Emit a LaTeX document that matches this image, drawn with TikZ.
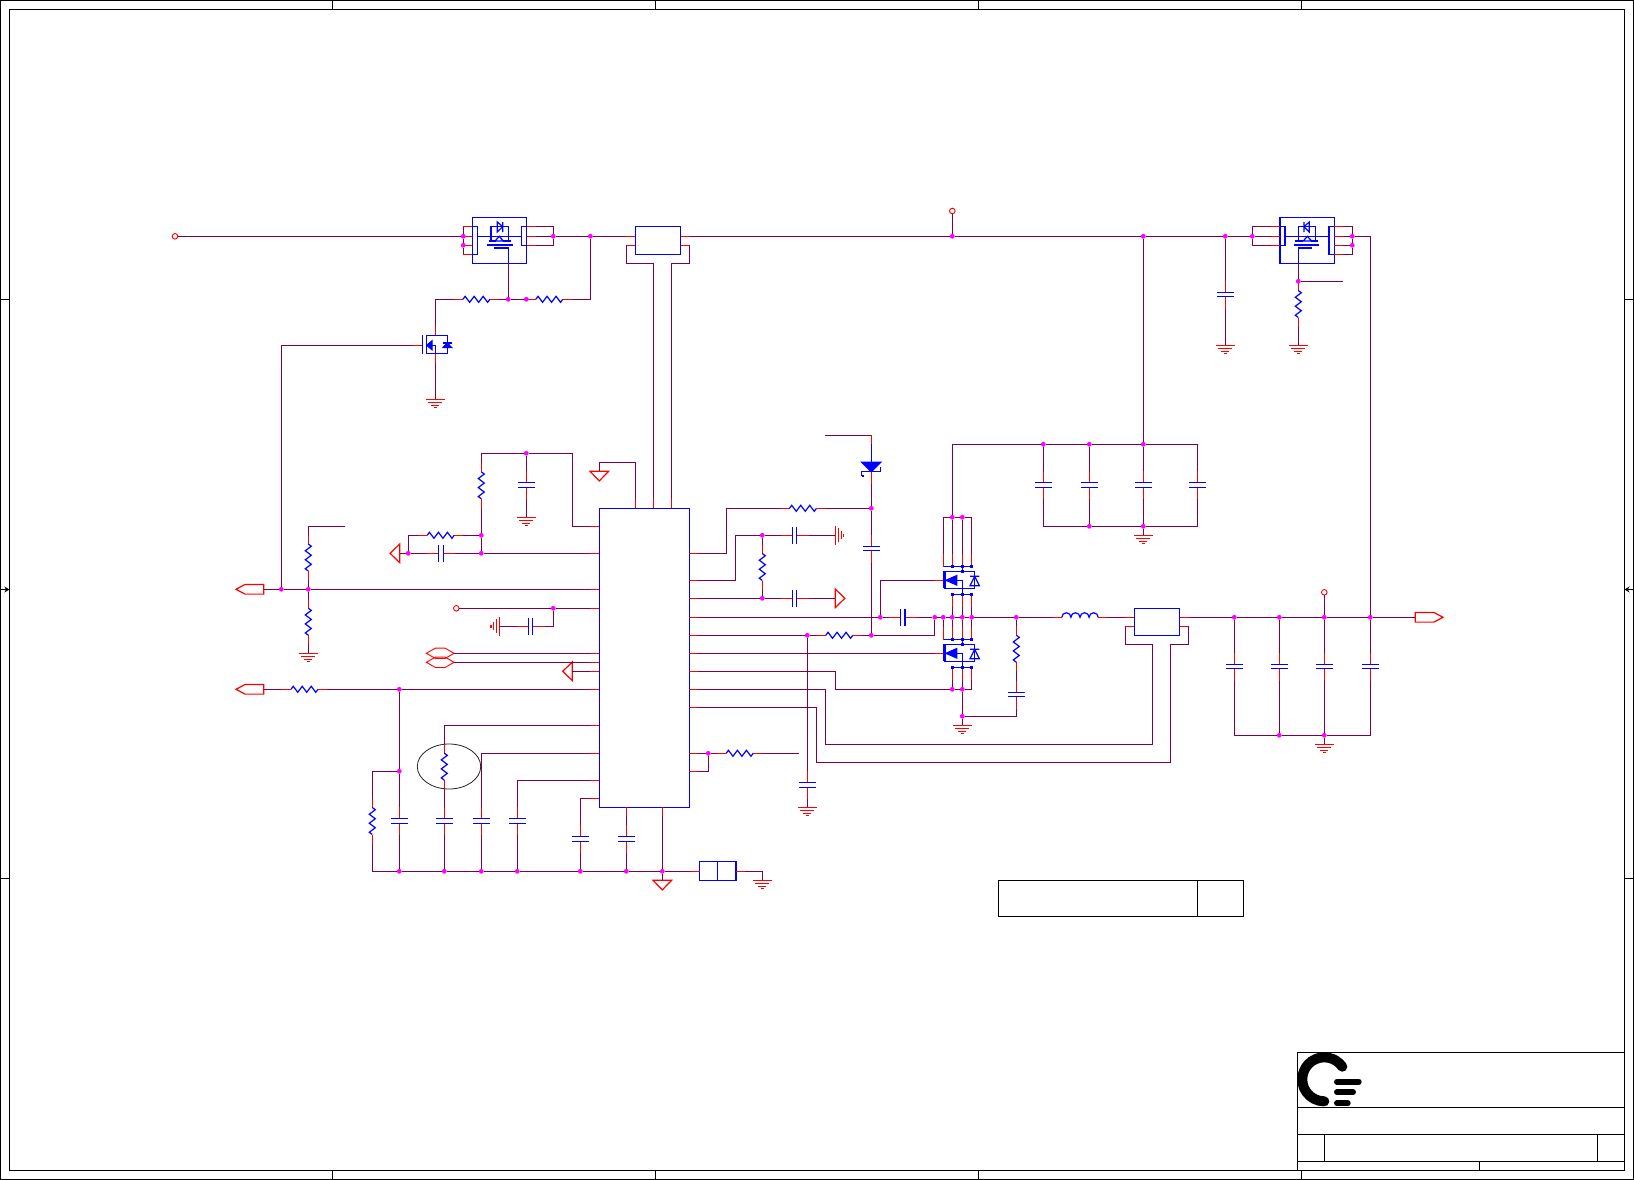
\documentclass[tikz,border=0pt]{standalone}
\usetikzlibrary{arrows.meta,shapes.geometric}
\definecolor{wirecol}{RGB}{128,0,72}
\definecolor{partcol}{RGB}{0,0,255}
\definecolor{pincol}{RGB}{255,0,0}
\definecolor{dotcol}{RGB}{255,0,255}
\tikzset{
  wire/.style={draw=wirecol, line width=1.2pt},
  pin/.style={draw=pincol, line width=1.2pt},
  part/.style={draw=partcol, line width=1.2pt},
  frame/.style={draw=black, line width=1.3pt},
  dot/.style={circle, fill=dotcol, inner sep=0pt, outer sep=0pt, minimum size=4.8pt},
  tp/.style={circle, draw=pincol, line width=0.9pt, inner sep=0pt, outer sep=0pt, minimum size=5.6pt},
  box/.style={part, rectangle, inner sep=0pt, outer sep=0pt},
  vert/.style={rotate=-90},
  pics/res/.style={code={
      \coordinate (-a) at (-22.5,0);
      \coordinate (-b) at (22.5,0);
      \draw[pin] (-a) -- (-13.5,0) (13.5,0) -- (-b);
      \draw[part] (-13.5,0) -- (-11.25,-3) -- (-6.75,3) -- (-2.25,-3) -- (2.25,3) -- (6.75,-3) -- (11.25,3) -- (13.5,0);
  }},
  pics/capa/.style={code={
      \coordinate (-a) at (-14,0);
      \coordinate (-b) at (14,0);
      \draw[pin] (-a) -- (-2.3,0) (2.3,0) -- (-b);
      \draw[part] (-2.3,-8.7) -- (-2.3,8.7) (2.3,-8.7) -- (2.3,8.7);
  }},
  pics/ind/.style={code={
      \coordinate (-a) at (-27.3,0);
      \coordinate (-b) at (27.3,0);
      \draw[pin] (-a) -- (-18.2,0) (18.2,0) -- (-b);
      \draw[part] (-18.2,0) arc[start angle=180, end angle=360, radius=4.55]
        arc[start angle=180, end angle=360, radius=4.55]
        arc[start angle=180, end angle=360, radius=4.55]
        arc[start angle=180, end angle=360, radius=4.55];
  }},
  pics/gnd/.style={code={
      \coordinate (-a) at (0,0);
      \draw[pin] (-9.5,0) -- (9.5,0) (-7,3) -- (7,3) (-4,6) -- (4,6) (-1.2,8.3) -- (1.2,8.3);
  }},
  pics/tri/.style={code={
      \coordinate (-a) at (0,0);
      \draw[pin] (0,-9.3) -- (0,9.3) -- (9.6,0) -- cycle;
  }},
  pics/port/.style={code={
      \coordinate (-a) at (0,0);
      \draw[pin] (0,-4.8) -- (-18.7,-4.8) -- (-27.7,0) -- (-18.7,4.8) -- (0,4.8) -- cycle;
  }},
  pics/hexa/.style={code={
      \coordinate (-a) at (0,0);
      \draw[pin, line width=0.9pt] (0,0) -- (-9,-5.2) -- (-18.5,-5.2) -- (-27.7,0) -- (-18.5,5.2) -- (-9,5.2) -- cycle;
  }},
  pics/zen/.style={code={
      \coordinate (-a) at (0,-27);
      \coordinate (-b) at (0,21.7);
      \draw[pin] (-a) -- (0,-18) (0,9) -- (-b);
      \draw[part] (0,-18) -- (0,9);
      \draw[part, fill=partcol] (-9.5,0) -- (9.5,0) -- (0,9.4) -- cycle;
      \draw[part] (-9.5,13.7) -- (-9.5,9.4) -- (9.5,9.4) -- (9.5,5);
      \draw[part] (-9.5,13.7) -- (-7,13.7);
  }},
  pics/smallfet/.style={code={
      \coordinate (-d) at (0,-19);
      \coordinate (-s) at (0,17.4);
      \coordinate (-g) at (-22.1,0);
      \draw[pin] (-d) -- (0,-10) (0,8.4) -- (-s) (-g) -- (-13.1,0);
      \draw[part] (-13.1,-10) -- (-13.1,8.4);
      \draw[part] (-9.1,-10) rectangle (11.9,8.4);
      \draw[part, fill=partcol] (-8.7,0) -- (-3.3,-4.5) -- (-3.3,4.5) -- cycle;
      \draw[part] (-3.3,0) -- (0.3,0) -- (0.3,8.4);
      \draw[part, fill=partcol] (7.6,2.3) -- (16.2,2.3) -- (11.9,-2.3) -- cycle;
      \draw[part] (7.6,-2.3) -- (16.2,-2.3);
  }},
  pics/powfet/.style={code={
      \coordinate (-g) at (-28,0);
      \draw[pin] (-g) -- (-19,0);
      \draw[part] (-19,-9) -- (-19,8);
      \draw[part] (-17.3,-9) -- (12.4,-9) -- (12.4,8) -- (-17.3,8) -- cycle;
      \draw[part, fill=partcol] (-16.3,0) -- (-5.6,-4.7) -- (-5.6,4.7) -- cycle;
      \draw[part] (-5.6,0) -- (0,0) -- (0,14);
      \draw[part] (0,-9) -- (0,-13.6);
      \draw[part] (7.7,5.4) -- (17,5.4) -- (12.4,-4) -- cycle (7.7,-4) -- (17,-4);
      \draw[part] (-19,-13.6) -- (9.4,-13.6) (-10,14) -- (9.4,14);
      \foreach \i/\x in {1/-19,2/-10,3/0,4/9.4} {
        \coordinate (-d\i) at (\x,-26.6);
        \draw[pin] (-d\i) -- (\x,-13.6);
      }
      \foreach \i/\x in {2/-10,3/0,4/9.4} {
        \coordinate (-s\i) at (\x,27);
        \draw[pin] (\x,14) -- (-s\i);
        \fill[partcol] (\x-1.6,12.4) rectangle ++(3.2,3.2);
      }
      \foreach \x/\y in {-10/-13.6,0/-13.6,9.4/-13.6,0/-9} {
        \fill[partcol] (\x-1.6,\y-1.6) rectangle ++(3.2,3.2);
      }
  }},
  pics/hsw/.style={code={
      \coordinate (-g) at (8.3,18.3);
      \draw[part] (-27.7,-27.7) rectangle (26.7,18.3);
      \draw[part] (-27.7,-18.3) rectangle (-22.3,9.3);
      \draw[part] (21.7,-18.3) rectangle (26.7,0.3);
      \draw[part] (-22.3,-8.7) -- (21.7,-8.7);
      \draw[part] (-9,-4) -- (-9,-18.3) -- (8.3,-18.3) -- (8.3,-4);
      \draw[part] (-2.7,-23) -- (-2.7,-13) -- (2.7,-18.3) -- cycle (2.7,-23) -- (2.7,-13);
      \draw[part] (-11,-4) -- (-4,-4) (3.3,-4) -- (11.3,-4);
      \draw[part] (-5,-4) -- (-0.7,-8.7) -- (3.3,-4) -- cycle;
      \draw[part, line width=2pt] (-12.7,0) -- (12.7,0);
      \draw[part] (-5.7,3) -- (8.3,3) -- (-g);
      \foreach \i/\y in {1/-18.3,2/-8.7,3/0.3,4/9.3} {
        \coordinate (-l\i) at (-36.7,\y);
        \draw[pin] (-l\i) -- (-27.7,\y);
      }
      \foreach \i/\y in {1/-18.3,2/-8.7,3/0.3} {
        \coordinate (-r\i) at (35.7,\y);
        \draw[pin] (26.7,\y) -- (-r\i);
      }
  }},
}
\begin{document}
\begin{tikzpicture}[x=1pt, y=-1pt]
      \useasboundingbox (0,0) rectangle (1634,1180);

      \draw[frame] (0.8,0.8) rectangle (1633.2,1179.2);
      \draw[frame] (9.4,9.4) rectangle (1624.5,1170.3);
      \foreach \x in {332.4,655.4,978.4,1301.5} {
        \draw[frame] (\x,0.8) -- (\x,9.4);
        \draw[frame] (\x,1170.3) -- (\x,1179.2);
      }
      \foreach \y in {299.3,878.4} {
        \draw[frame] (0.8,\y) -- (9.4,\y);
        \draw[frame] (1624.5,\y) -- (1633.2,\y);
      }
      \draw[frame, -{Stealth[length=5pt,width=6pt]}] (0.8,589.5) -- (9.4,589.5);
      \draw[frame, -{Stealth[length=5pt,width=6pt]}] (1633.2,589.5) -- (1624.5,589.5);

      \draw[frame] (1624.5,1052.3) -- (1297.3,1052.3) -- (1297.3,1170.3);
      \draw[frame] (1297.3,1107.3) -- (1624.5,1107.3);
      \draw[frame] (1297.3,1134.3) -- (1624.5,1134.3);
      \draw[frame] (1297.3,1161.3) -- (1624.5,1161.3);
      \draw[frame] (1324.3,1134.3) -- (1324.3,1161.3);
      \draw[frame] (1597.7,1134.3) -- (1597.7,1161.3);
      \draw[frame] (1479.7,1161.3) -- (1479.7,1170.3);
      \draw[black, line width=10pt, line cap=round] (1342.3,1066.7) arc[start angle=-35, end angle=-270, radius=22];
      \draw[black, line width=6pt, line cap=round] (1337,1081.7) -- (1358.7,1081.7);
      \draw[black, line width=6pt, line cap=round] (1337,1092.3) -- (1353,1092.3);
      \draw[black, line width=6pt, line cap=round] (1337,1103.3) -- (1347.7,1103.3);

      \node[frame, rectangle, inner sep=0pt, minimum width=199.2pt, minimum height=36pt] (T_name) at (1097.9,898.3) {};
      \node[frame, rectangle, inner sep=0pt, minimum width=46.2pt, minimum height=36pt] (T_rev) at (1220.7,898.3) {};

      \node[box, minimum width=90pt, minimum height=299pt] (U_ctl) at (644.3,657.8) {};
      \node[box, minimum width=45.3pt, minimum height=28pt] (U_in) at (658,240.3) {};
      \node[box, minimum width=45.4pt, minimum height=27pt] (U_out) at (1157,621.8) {};
      \node[box, minimum width=18.2pt, minimum height=19pt] (J_a) at (708.6,870.8) {};
      \node[box, minimum width=18.2pt, minimum height=19pt] (J_b) at (726.8,870.8) {};
      \node[draw=black!85, line width=0.8pt, ellipse, inner sep=0pt, minimum width=63.4pt, minimum height=45pt] (M_ntc) at (449,766.5) {};

      \node[tp] (TP_in) at (175,236.3) {};
      \node[tp] (TP_sw) at (952.3,211) {};
      \node[tp] (TP_bat) at (456.3,608.3) {};
      \node[tp] (TP_out) at (1324.3,592.3) {};

      \pic (U1) at (500,245) {hsw};
      \pic[xscale=-1] (U3) at (1306.6,245) {hsw};
      \pic (Q1) at (435.4,345.3) {smallfet};
      \pic (QH) at (962.3,580.3) {powfet};
      \pic (QL) at (962.3,653.3) {powfet};
      \pic (Z1) at (871.3,462.3) {zen};
      \pic (L1) at (1080,617.3) {ind};

      \foreach \n/\x/\y in {R_q1/476.4/299.3, R_q2/549.3/299.3, R_i/440.7/535.3, R_a/803/508.3, R_e/839.3/635.3,
        R_b/304.5/689.3, R_j/739.7/753.3} {
        \pic (\n) at (\x,\y) {res};
      }
      \foreach \n/\x/\y in {R_n/1298.3/304, R_h/481.3/485.3, R_s/308.3/557.5, R_t/308.3/621.7, R_f/762.3/567,
        R_l/372.3/821, R_m/444.3/766.6, R_d/1016.3/648.7} {
        \pic[vert] (\n) at (\x,\y) {res};
      }
      \foreach \n/\x/\y in {C_i/440.8/553.3, C_c/530.5/626.3, C_f/794.5/535.3, C_g/794.5/598.3, C_h/902.7/617.3} {
        \pic (\n) at (\x,\y) {capa};
      }
      \foreach \n/\x/\y in {C_n/1225.3/294.5, C_t/526.3/484.8, C_l/399.3/820.8, C_m/444.3/820.8, C_o/481.3/820.8,
        C_p/517.3/820.8, C_r/580.3/838.8, C_s/626.3/838.8, C_boot/871.3/548.5, C_k/807.3/784.8, C_d/1016.3/694.5,
        C_b1/1043.3/484.8, C_b2/1089.3/484.8, C_b3/1143.3/484.8, C_b4/1197.3/484.8,
        C_o1/1234.3/666.5, C_o2/1279.3/666.5, C_o3/1324.3/666.5, C_o4/1370.3/666.5} {
        \pic[vert] (\n) at (\x,\y) {capa};
      }
      \foreach \n/\x/\y in {G_n/1225.3/345.3, G_m/1298.3/345.3, G_q1/435.4/399.3, G_t/526.3/517.3, G_s/308.3/653.3,
        G_j/762.3/880.3, G_k/807.3/807.3, G_q/962.3/725.3, G_b/1143.3/535.3, G_o/1324.3/744.3} {
        \pic (\n) at (\x,\y) {gnd};
      }
      \pic[rotate=-90] (G_c) at (499.3,626.3) {gnd};
      \pic[rotate=90] (G_f) at (835.3,535.3) {gnd};
      \pic[rotate=180] (T_i) at (399.7,553.3) {tri};
      \pic[rotate=180] (T_l) at (572.3,671.3) {tri};
      \pic (T_g) at (835.3,598.3) {tri};
      \pic[vert] (T_t) at (599.3,471.3) {tri};
      \pic[vert] (T_b) at (662.3,880.3) {tri};
      \pic (P_a) at (263.7,589.3) {port};
      \pic (P_b) at (263.7,689.3) {port};
      \pic[xscale=-1] (P_o) at (1415.3,617.3) {port};
      \pic (H_a) at (454,653.3) {hexa};
      \pic (H_b) at (454,662.3) {hexa};

      \foreach \n/\x/\y/\dx/\dy in {LA/590.3/526.3/9/0, LB/590.3/553.3/9/0, LC/590.3/589.3/9/0, LD/590.3/608.3/9/0,
        LE/590.3/653.3/9/0, LF/590.3/662.3/9/0, LG/590.3/671.3/9/0, LH/590.3/689.3/9/0, LI/590.3/725.3/9/0,
        LJ/590.3/753.3/9/0, LK/590.3/780.3/9/0, LL/590.3/798.3/9/0,
        RA/698.3/553.3/-9/0, RB/698.3/580.3/-9/0, RC/698.3/598.3/-9/0, RD/698.3/617.3/-9/0, RE/698.3/635.3/-9/0,
        RF/698.3/653.3/-9/0, RG/698.3/671.3/-9/0, RH/698.3/689.3/-9/0, RI/698.3/707.3/-9/0, RJ/698.3/753.3/-9/0,
        RK/698.3/771.3/-9/0,
        TA/635.3/499.3/0/9, TB/653.3/499.3/0/9, TC/671.3/499.3/0/9, BA/626.3/816.3/0/-9, BB/662.3/816.3/0/-9,
        FA/626.4/236.3/9/0, FB/626.4/245.3/9/0, FC/689.7/236.3/-9/0, FD/689.7/245.3/-9/0,
        UA/1125.3/617.3/9/0, UB/1125.3/626.3/9/0, UC/1188.7/617.3/-9/0, UD/1188.7/626.3/-9/0,
        JA/690.5/871.3/9/0, JB/744.8/871.3/-9/0} {
        \coordinate (\n) at (\x,\y);
        \draw[pin] (\n) -- ++(\dx,\dy);
      }

      \foreach \n/\x/\y in {J1/463.3/236.3, J2/463.3/245.3, J3/553.3/236.3, J4/590.4/236.3, J5/508.3/299.3,
        J6/526.3/299.3, J7/952.3/236.3, J8/1143.3/236.3, J9/1225.3/236.3, J10/1252.3/236.3, J11/1352.3/236.3,
        J12/1352.3/245.3, J13/1298.3/281.3, J14/526.3/453.3, J15/481.3/535.3, J16/481.3/553.3, J17/408.3/553.3,
        J18/281.3/589.3, J19/308.3/589.3, J20/553.3/608.3, J21/399.3/689.3, J22/399.3/771.3,
        J23/399.3/871.3, J24/444.3/871.3, J25/481.3/871.3, J26/517.3/871.3, J27/580.3/871.3, J28/626.3/871.3,
        J29/662.3/871.3, J30/871.3/508.3, J31/871.3/635.3, J32/762.3/535.3, J33/762.3/598.3, J34/880.3/617.3,
        J35/934.7/617.3, J36/943.3/617.3, J37/952.3/617.3, J38/962.3/617.3, J39/971.7/617.3, J40/1016.3/617.3,
        J41/807.3/635.3, J42/952.3/689.3, J43/962.3/689.3, J44/962.3/716.3, J45/708.3/753.3, J46/952.3/517.3,
        J47/962.3/517.3, J48/1043.3/444.3, J49/1089.3/444.3, J50/1143.3/444.3, J51/1089.3/526.3, J52/1143.3/526.3,
        J53/1234.3/617.3, J54/1279.3/617.3, J55/1324.3/617.3, J56/1370.3/617.3, J57/1279.3/735.3, J58/1324.3/735.3} {
        \node[dot] (\n) at (\x,\y) {};
      }

      \coordinate (W_boot) at (825.3,435.3);
      \coordinate (W_sense) at (345,526.3);
      \coordinate (W_en) at (799,753.3);
      \coordinate (W_gate) at (1343.3,281.3);

      \draw[wire] (TP_in) -- (J1);
      \draw[wire] (U1-l1) -- (J1) -- (J2) -- (U1-l4);
      \draw[wire] (U1-l3) -- (J2);
      \draw[wire] (U1-r1) -| (J3) |- (U1-r3);
      \draw[wire] (U1-r2) -- (J3) -- (J4) -- (FA);
      \draw[wire] (FC) -- (J7) -- (J8) -- (J9) -- (J10);
      \draw[wire] (J7) -- (TP_sw);
      \draw[wire] (U3-r1) -| (J10) |- (U3-r3);
      \draw[wire] (U3-r2) -- (J10);
      \draw[wire] (U3-l1) -| (J11) -- (J12) |- (U3-l4);
      \draw[wire] (U3-l2) -- (J11);
      \draw[wire] (U3-l3) -- (J12);
      \draw[wire] (J11) -| (J56);
      \draw[wire] (J9) -- (C_n-a);
      \draw[wire] (C_n-b) -- (G_n-a);
      \draw[wire] (U3-g) -- (J13) -- (W_gate);
      \draw[wire] (R_n-b) -- (G_m-a);
      \draw[wire] (U1-g) -- (J5);
      \draw[wire] (R_q1-b) -- (J5) -- (J6);
      \draw[wire] (R_q2-b) -| (J4);
      \draw[wire] (R_q1-a) -| (Q1-d);
      \draw[wire] (Q1-s) -- (G_q1-a);
      \draw[wire] (Q1-g) -| (J18);
      \draw[wire] (P_a-a) -- (J18) -- (J19) -- (LC);
      \draw[wire] (J19) -- (R_s-b);
      \draw[wire] (R_s-a) |- (W_sense);
      \draw[wire] (J19) -- (R_t-a);
      \draw[wire] (R_t-b) -- (G_s-a);
      \draw[wire] (TP_bat) -- (J20) -- (LD);
      \draw[wire] (J20) |- (C_c-b);
      \draw[wire] (C_c-a) -- (G_c-a);
      \draw[wire] (H_a-a) -- (LE);
      \draw[wire] (H_b-a) -- (LF);
      \draw[wire] (T_l-a) -- (LG);
      \draw[wire] (P_b-a) -- (R_b-a);
      \draw[wire] (R_b-b) -- (J21) -- (LH);
      \draw[wire] (J21) -- (J22) -- (C_l-a);
      \draw[wire] (C_l-b) -- (J23);
      \draw[wire] (J22) -| (R_l-a);
      \draw[wire] (R_l-b) |- (J23);
      \draw[wire] (J23) -- (J24) -- (J25) -- (J26) -- (J27) -- (J28) -- (J29) -- (JA);
      \draw[wire] (JB) -| (G_j-a);
      \draw[wire] (LI) -| (R_m-a);
      \draw[wire] (R_m-b) -- (C_m-a);
      \draw[wire] (C_m-b) -- (J24);
      \draw[wire] (LJ) -| (C_o-a);
      \draw[wire] (C_o-b) -- (J25);
      \draw[wire] (LK) -| (C_p-a);
      \draw[wire] (C_p-b) -- (J26);
      \draw[wire] (LL) -| (C_r-a);
      \draw[wire] (C_r-b) -- (J27);
      \draw[wire] (BA) -- (C_s-a);
      \draw[wire] (C_s-b) -- (J28);
      \draw[wire] (BB) -- (J29) -- (T_b-a);
      \draw[wire] (LA) -- ++(-17.8,0) |- (J14) -| (R_h-a);
      \draw[wire] (R_h-b) -- (J15) -- (J16) -- (LB);
      \draw[wire] (J14) -- (C_t-a);
      \draw[wire] (C_t-b) -- (G_t-a);
      \draw[wire] (J15) -- (R_i-b);
      \draw[wire] (R_i-a) -| (J17);
      \draw[wire] (T_i-a) -- (J17) -- (C_i-a);
      \draw[wire] (C_i-b) -- (J16);
      \draw[wire] (TA) -- ++(0,-37) -| (T_t-a);
      \draw[wire] (TB) -- ++(0,-236) -| (FB);
      \draw[wire] (TC) -- ++(0,-236) -| (FD);
      \draw[wire] (RA) -- ++(28,0) |- (R_a-a);
      \draw[wire] (R_a-b) -- (J30);
      \draw[wire] (W_boot) -| (Z1-a);
      \draw[wire] (Z1-b) -- (J30) -- (C_boot-a);
      \draw[wire] (C_boot-b) -- (J31);
      \draw[wire] (RB) -- ++(37,0) |- (J32) -- (C_f-a);
      \draw[wire] (C_f-b) -- (G_f-a);
      \draw[wire] (J32) -- (R_f-a);
      \draw[wire] (R_f-b) -- (J33);
      \draw[wire] (RC) -- (J33) -- (C_g-a);
      \draw[wire] (C_g-b) -- (T_g-a);
      \draw[wire] (RD) -- (J34) -- (C_h-a);
      \draw[wire] (C_h-b) -- (J35) -- (J36) -- (J37) -- (J38) -- (J39) -- (J40) -- (L1-a);
      \draw[wire] (L1-b) -- (UA);
      \draw[wire] (J34) |- (QH-g);
      \draw[wire] (RE) -- (J41) -- (R_e-a);
      \draw[wire] (R_e-b) -- (J31) -| (J35);
      \draw[wire] (RF) -- (QL-g);
      \draw[wire] (RG) -- ++(137,0) |- (J42) -- (J43);
      \draw[wire] (RH) -- ++(127,0) -- ++(0,55) -- ++(327,0) -- ++(0,-100) -- ++(-27,0) -- (UB);
      \draw[wire] (RI) -- ++(118,0) -- ++(0,55) -- ++(354,0) -- ++(0,-118) -- ++(18.4,0) -- (UD);
      \draw[wire] (J41) -- (C_k-a);
      \draw[wire] (C_k-b) -- (G_k-a);
      \draw[wire] (RJ) -- (J45) -- (R_j-a);
      \draw[wire] (R_j-b) -- (W_en);
      \draw[wire] (J45) |- (RK);
      \draw[wire] (QH-d1) |- (J46) -- (J47) -| (QH-d4);
      \draw[wire] (QH-d2) -- (J46);
      \draw[wire] (QH-d3) -- (J47);
      \draw[wire] (J46) |- (J48) -- (J49) -- (J50) -| (C_b4-a);
      \draw[wire] (J8) -- (J50) -- (C_b3-a);
      \draw[wire] (J48) -- (C_b1-a);
      \draw[wire] (J49) -- (C_b2-a);
      \draw[wire] (C_b1-b) |- (J51) -- (J52);
      \draw[wire] (C_b2-b) -- (J51);
      \draw[wire] (C_b3-b) -- (J52);
      \draw[wire] (C_b4-b) |- (J52);
      \draw[wire] (J52) -- (G_b-a);
      \draw[wire] (QH-s2) -- (J37);
      \draw[wire] (QH-s3) -- (J38);
      \draw[wire] (QH-s4) -- (J39);
      \draw[wire] (QL-d1) -- (J36);
      \draw[wire] (QL-d2) -- (J37);
      \draw[wire] (QL-d3) -- (J38);
      \draw[wire] (QL-d4) -- (J39);
      \draw[wire] (QL-s2) -- (J42);
      \draw[wire] (QL-s3) -- (J43);
      \draw[wire] (QL-s4) |- (J43);
      \draw[wire] (J43) -- (J44) -- (G_q-a);
      \draw[wire] (J44) -| (C_d-b);
      \draw[wire] (C_d-a) -- (R_d-b);
      \draw[wire] (J40) -- (R_d-a);
      \draw[wire] (UC) -- (J53) -- (J54) -- (J55) -- (J56) -- (P_o-a);
      \draw[wire] (J55) -- (TP_out);
      \draw[wire] (J53) -- (C_o1-a);
      \draw[wire] (J54) -- (C_o2-a);
      \draw[wire] (J55) -- (C_o3-a);
      \draw[wire] (J56) -- (C_o4-a);
      \draw[wire] (C_o1-b) |- (J57) -- (J58);
      \draw[wire] (C_o2-b) -- (J57);
      \draw[wire] (C_o3-b) -- (J58);
      \draw[wire] (C_o4-b) |- (J58);
      \draw[wire] (J58) -- (G_o-a);
    \end{tikzpicture}
\end{document}
